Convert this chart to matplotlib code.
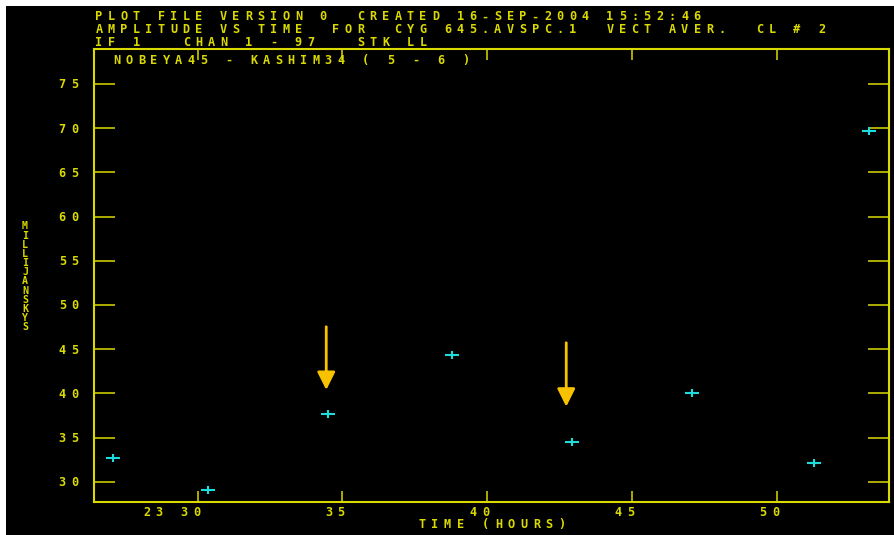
import matplotlib
matplotlib.use("Agg")
import matplotlib.pyplot as plt
from matplotlib.path import Path
from matplotlib.patches import Rectangle
from matplotlib.transforms import (Affine2D, IdentityTransform,
                                   blended_transform_factory, offset_copy)

# ---- data -------------------------------------------------------------
hours = [27.08, 30.35, 34.49, 38.77, 42.94, 47.08, 51.30, 53.20]
amp_mjy = [32.65, 29.03, 37.63, 44.34, 34.53, 40.07, 32.08, 69.68]

flag_hours = [34.44, 42.73]        # flagged scans marked with arrows
flag_from = [47.54, 45.73]
flag_to = [40.38, 38.49]

x_ticks = [30, 35, 40, 45, 50]
x_tick_labels = ["23 30", "35", "40", "45", "50"]
y_ticks = [30, 35, 40, 45, 50, 55, 60, 65, 70, 75]
y_tick_labels = [str(v) for v in y_ticks]

header_lines = [
    "PLOT FILE VERSION 0  CREATED 16-SEP-2004 15:52:46",
    "AMPLITUDE VS TIME  FOR  CYG 645.AVSPC.1  VECT AVER.  CL # 2",
    "IF 1   CHAN 1 - 97   STK LL",
]
baseline_label = "NOBEYA45 - KASHIM34 ( 5 - 6 )"
x_label = "TIME (HOURS)"
y_label = "MILLIJANSKYS"

# ---- style ------------------------------------------------------------
W, H = 894, 535
YELLOW = "#DADA00"
CYAN = "#1CDCDC"
GOLD = "#F8C200"
MONO = "DejaVu Sans Mono"
PITCH = 12.46   # fixed character pitch of the plotter font, in pixels

fig = plt.figure(figsize=(W / 100, H / 100), dpi=100, facecolor="white")
fig.patches.append(Rectangle((6 / W, 0), 1 - 6 / W, (H - 6) / H,
                             transform=fig.transFigure, facecolor="black",
                             edgecolor="none", zorder=-10))

# pixel coordinates measured from the top-left corner
px = Affine2D().scale(1, -1).translate(0, H)


def plotter_text(x, y, s, trans, size=8.6, anchor="left", dx=0.0,
                 pitch=PITCH, color=YELLOW, weight="bold"):
    """Write s one glyph per fixed-pitch cell, like a vector plotter font."""
    n = len(s)
    start = {"left": 0.0, "center": -(n - 1) / 2 * pitch,
             "right": -(n - 1) * pitch}[anchor]
    cap = 0.729 * size * 100 / 72
    for i, ch in enumerate(s):
        if ch.isspace():
            continue
        t = offset_copy(trans, fig=fig, x=dx + start + i * pitch,
                        y=-cap / 2, units="dots")
        fig.text(x, y, ch, transform=t, ha="center", va="baseline",
                 fontsize=size, family=MONO, color=color, fontweight=weight)


# ---- axes -------------------------------------------------------------
left, right, top, bottom = 94.3, 889.3, 49.3, 501.5
ax = fig.add_axes([left / W, (H - bottom) / H, (right - left) / W,
                   (bottom - top) / H])
ax.set_facecolor("black")
ax.set_xlim(26.428, 53.889)
ax.set_ylim(27.76, 78.93)

for sp in ax.spines.values():
    sp.set_color(YELLOW)
    sp.set_linewidth(1.5)

ax.set_xticks(x_ticks)
ax.set_yticks(y_ticks)
ax.tick_params(axis="both", direction="in", colors=YELLOW, width=1.1,
               labelbottom=False, labelleft=False)
ax.tick_params(axis="x", length=8, top=True)
ax.tick_params(axis="y", length=15, right=True)

plus = Path([(-1, 0), (1, 0), (0, -0.62), (0, 0.62)],
            [Path.MOVETO, Path.LINETO, Path.MOVETO, Path.LINETO])
ax.plot(hours, amp_mjy, ls="none", marker=plus, ms=10, mew=1.5,
        color=CYAN, clip_on=False)

for xh, y0, y1 in zip(flag_hours, flag_from, flag_to):
    ax.annotate("", xy=(xh, y1), xytext=(xh, y0),
                arrowprops=dict(arrowstyle="-|>,head_length=0.54,head_width=0.27",
                                color=GOLD, lw=2, mutation_scale=20,
                                shrinkA=0, shrinkB=0))

# ---- labels -----------------------------------------------------------
xlab_t = blended_transform_factory(ax.transData, IdentityTransform())
for v, lab in zip(x_ticks, x_tick_labels):
    plotter_text(v, H - 512, lab, xlab_t, anchor="right", dx=-1.3)

ylab_t = blended_transform_factory(IdentityTransform(), ax.transData)
for v, lab in zip(y_ticks, y_tick_labels):
    plotter_text(68.5, v, lab, ylab_t, anchor="center")

plotter_text(492, 523.5, x_label, px, anchor="center", pitch=12.7)

for i, ch in enumerate(y_label):
    plotter_text(25, 225.7 + i * 9.18, ch, px, size=7.2, anchor="center")

for line, yc in zip(header_lines, [16, 29, 41.3]):
    plotter_text(99, yc, line, px)

plotter_text(116.5, 59.3, baseline_label, px)

fig.savefig("out.png", dpi=100, facecolor=fig.get_facecolor())
